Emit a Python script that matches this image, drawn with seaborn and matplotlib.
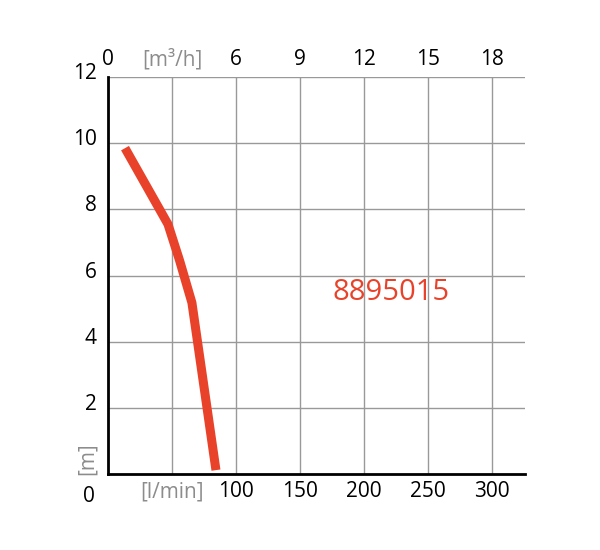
import matplotlib.pyplot as plt
import matplotlib.transforms as mtransforms
import seaborn as sns
import pandas as pd

# pump curve
flow_lpm = [13.3, 46.9, 56.0, 65.6, 84.4]
head_m = [9.85, 7.55, 6.45, 5.18, 0.12]

x_ticks = [50, 100, 150, 200, 250, 300]
x_labels_bottom = ['[l/min]', '100', '150', '200', '250', '300']
x_labels_top = ['[m³/h]', '6', '9', '12', '15', '18']
y_ticks = [2, 4, 6, 8, 10, 12]
y_labels = ['2', '4', '6', '8', '10', '12']
model = '8895015'

red = '#e8432a'
gray = '#8c8c8c'
fs = 15

sns.set_style('white')
plt.rcParams['font.family'] = ['Open Sans', 'DejaVu Sans']
plt.rcParams['text.color'] = 'black'
plt.rcParams['xtick.color'] = 'black'
plt.rcParams['ytick.color'] = 'black'

df = pd.DataFrame({'flow': flow_lpm, 'head': head_m})

fig = plt.figure(figsize=(6, 5.5), dpi=100)
ax = fig.add_axes([0.18, 0.138, 0.695, 0.722])

sns.lineplot(data=df, x='flow', y='head', ax=ax, color=red, lw=6.5, solid_capstyle='butt')

ax.set_xlim(0, 326)
ax.set_ylim(0, 12)
for v in [0, 50, 100, 150, 200, 250, 300]:
    ax.axvline(v, color='#999999', lw=1, zorder=0)
for v in [2, 4, 6, 8, 10, 12]:
    ax.axhline(v, color='#999999', lw=1, zorder=0)

for s in ['top', 'right']:
    ax.spines[s].set_visible(False)
ax.spines['left'].set_color('black')
ax.spines['left'].set_linewidth(2)
ax.spines['bottom'].set_color('black')
ax.spines['bottom'].set_linewidth(2)

ax.set_xlabel('')
ax.set_ylabel('')
ax.set_xticks(x_ticks)
ax.set_xticklabels(x_labels_bottom)
ax.set_yticks(y_ticks)
ax.set_yticklabels(y_labels)
ax.tick_params(axis='x', length=0, pad=5, labelsize=fs)
ax.tick_params(axis='y', length=0, pad=8, labelsize=fs)
ax.get_xticklabels()[0].set_color(gray)
shift = mtransforms.ScaledTranslation(0, 6 / 100, fig.dpi_scale_trans)
for t in ax.get_yticklabels():
    t.set_transform(t.get_transform() + shift)

top = ax.secondary_xaxis('top')
top.set_xticks([0] + x_ticks)
top.set_xticklabels(['0'] + x_labels_top)
top.tick_params(length=0, pad=5, labelsize=fs)
top.spines['top'].set_visible(False)
top.get_xticklabels()[1].set_color(gray)

ax.text(-0.032, -0.03, '0', transform=ax.transAxes, ha='right', va='top', fontsize=fs)
ax.text(-0.025, -0.003, '[m]', transform=ax.transAxes, ha='right', va='bottom',
        rotation=90, color=gray, fontsize=fs)
ax.text(221, 5.5, model, ha='center', va='center', color=red, fontsize=21)

fig.savefig('out.png', dpi=100)
